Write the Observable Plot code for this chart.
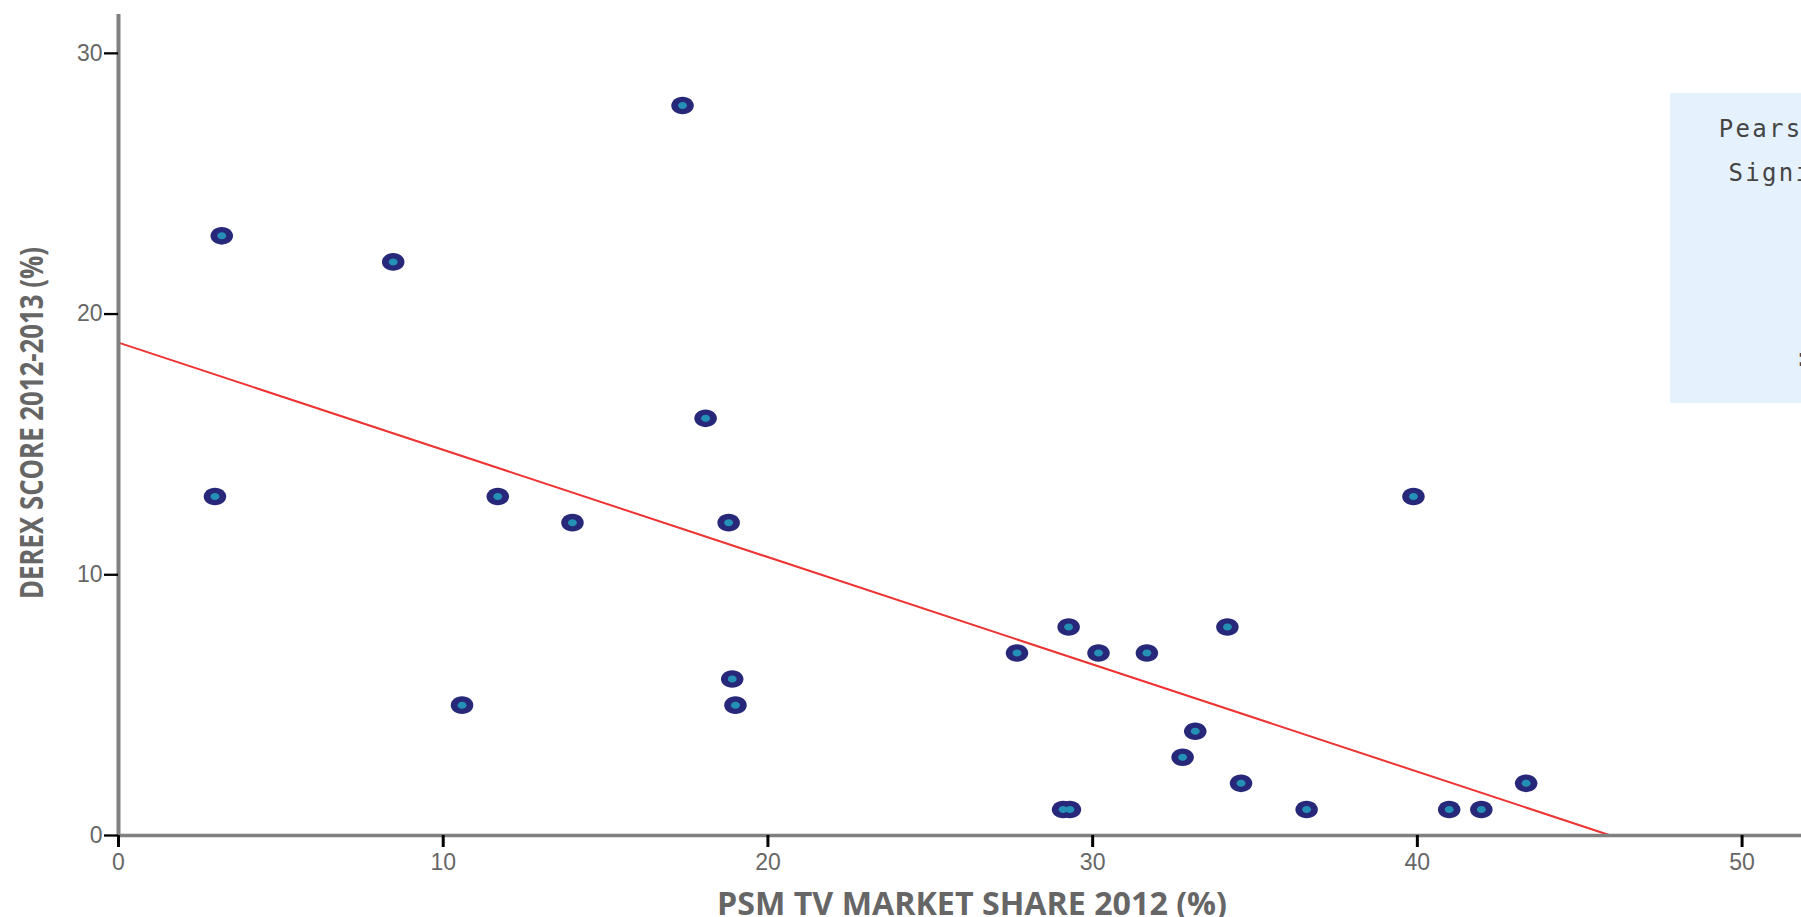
<!DOCTYPE html>
<html>
<head>
<meta charset="utf-8">
<script src="https://cdn.jsdelivr.net/npm/d3@7"></script>
<script src="https://cdn.jsdelivr.net/npm/@observablehq/plot@0.6"></script>
<style>
  html, body { margin: 0; padding: 0; background: #ffffff; overflow: hidden; }
  #chart svg { display: block; }
</style>
</head>
<body>
<div id="chart"></div>
<script>
// PSM TV market share 2012 (%) — x
const share = [17.37, 3.18, 8.46, 18.08, 2.97, 11.68, 13.98, 18.79, 39.88, 10.58,
               18.9, 19.0, 27.67, 29.26, 30.18, 31.67, 34.15, 33.16, 32.77, 34.57,
               29.09, 29.3, 36.59, 40.98, 41.97, 43.35];
// DEREX score 2012-2013 (%) — y
const derex = [28, 23, 22, 16, 13, 13, 12, 12, 13, 5,
               6, 5, 7, 8, 7, 7, 8, 4, 3, 2,
               1, 1, 1, 1, 1, 2];
const xTicks = [0, 10, 20, 30, 40, 50];
const yTicks = [0, 10, 20, 30];
const xTitle = "PSM TV MARKET SHARE 2012 (%)";
const yTitle = "DEREX SCORE 2012-2013 (%)";
const statLines = ["Pearson's r: -0.62", "Significance: 0.001", ": 26"];
const statX = [49.28, 49.58, 51.6];
const statY = [27.08, 25.39, 18.30];
const statBox = {x1: 47.8, x2: 51.83, y1: 16.57, y2: 28.46};

const points = share.map((x, i) => ({x, y: derex[i]}));

// ordinary least squares fit
const mx = d3.mean(share), my = d3.mean(derex);
const slope = d3.sum(share, (x, i) => (x - mx) * (derex[i] - my)) / d3.sum(share, x => (x - mx) ** 2);
const intercept = my - slope * mx;
const fitLine = [{x: 0, y: intercept}, {x: -intercept / slope, y: 0}];

const stats = statLines.map((t, i) => ({t, x: statX[i], y: statY[i]}));

// ellipse symbol (points are drawn wider than tall)
const ellipse = {
  draw(ctx, size) {
    const r = Math.sqrt(size / Math.PI), rx = r * 1.28, ry = r, k = 0.5523;
    ctx.moveTo(rx, 0);
    ctx.bezierCurveTo(rx, ry * k, rx * k, ry, 0, ry);
    ctx.bezierCurveTo(-rx * k, ry, -rx, ry * k, -rx, 0);
    ctx.bezierCurveTo(-rx, -ry * k, -rx * k, -ry, 0, -ry);
    ctx.bezierCurveTo(rx * k, -ry, rx, -ry * k, rx, 0);
    ctx.closePath();
  }
};

const plot = Plot.plot({
  width: 1801,
  height: 917,
  marginLeft: 118,
  marginRight: 0,
  marginTop: 14,
  marginBottom: 82,
  style: {fontFamily: "'Liberation Sans', Arial, sans-serif", fontSize: "23px", background: "#ffffff", overflow: "hidden"},
  x: {domain: [0, 51.83]},
  y: {domain: [0, 31.49]},
  marks: [
    Plot.rect([statBox], {x1: "x1", x2: "x2", y1: "y1", y2: "y2", fill: "#e5f2fd"}),
    Plot.text(stats, {x: "x", y: "y", text: "t", textAnchor: "start", lineAnchor: "middle",
      fontFamily: "'DejaVu Sans Mono', monospace", fontSize: 24, fill: "#444"}),
    Plot.line(fitLine, {x: "x", y: "y", stroke: "#ee3333", strokeWidth: 2}),
    Plot.ruleY([0], {x1: 0, x2: 51.83, stroke: "#808080", strokeWidth: 3.5}),
    Plot.ruleX([0], {y1: -0.05, y2: 31.49, stroke: "#808080", strokeWidth: 4}),
    Plot.axisX({ticks: xTicks, tickSize: 12, tickPadding: 6, stroke: "#000", strokeWidth: 3,
      fill: "#666", fontSize: 23, label: null}),
    Plot.axisY({ticks: yTicks, tickSize: 14, tickPadding: 2, stroke: "#000", strokeWidth: 2.3,
      fill: "#666", fontSize: 23, label: null}),
    Plot.dot(points, {x: "x", y: "y", symbol: ellipse, r: 8.8, fill: "#28287a", stroke: null}),
    Plot.dot(points, {x: "x", y: "y", symbol: ellipse, r: 3.5, fill: "#2590b5", stroke: null})
  ]
});

const svg = d3.select(plot);
svg.selectAll("g")
  .filter(function() { return (this.getAttribute("font-family") || "").includes("DejaVu Sans Mono"); })
  .style("letter-spacing", "2.3px");
svg.selectAll("g[aria-label*='axis'] text").style("font-size", "23px");

svg.append("text")
  .attr("x", 972).attr("y", 915)
  .attr("text-anchor", "middle")
  .attr("font-family", "'Open Sans', sans-serif")
  .attr("font-weight", 700)
  .attr("font-size", 32)
  .attr("fill", "#666")
  .attr("textLength", 510)
  .attr("lengthAdjust", "spacingAndGlyphs")
  .text(xTitle);

svg.append("text")
  .attr("transform", "translate(43,423) rotate(-90)")
  .attr("text-anchor", "middle")
  .attr("font-family", "'Open Sans', sans-serif")
  .attr("font-weight", 700)
  .attr("font-size", 32)
  .attr("fill", "#666")
  .attr("textLength", 352)
  .attr("lengthAdjust", "spacingAndGlyphs")
  .text(yTitle);

document.getElementById("chart").append(plot);
</script>
</body>
</html>
